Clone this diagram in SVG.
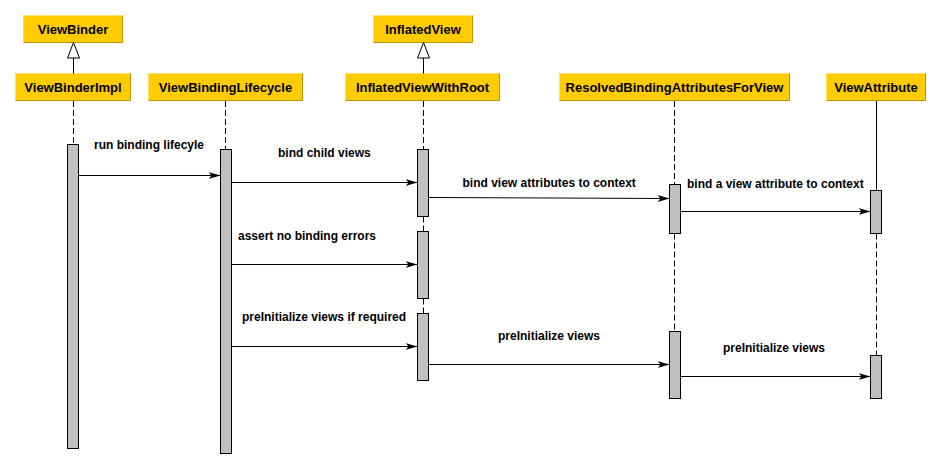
<svg xmlns="http://www.w3.org/2000/svg" width="941" height="468" viewBox="0 0 941 468">
<style>
.box{fill:#FFCC00;stroke:#FFE066;stroke-width:1}
.sh{fill:none;stroke:#B8960A;stroke-width:1}
.bl{font-family:"Liberation Sans",Arial,sans-serif;font-weight:bold;font-size:13px;fill:#000;text-anchor:middle}
.ml{font-family:"Liberation Sans",Arial,sans-serif;font-weight:bold;font-size:12px;fill:#000}
.act{fill:#C0C0C0;stroke:#000;stroke-width:1}
.life{stroke:#000;stroke-width:1;stroke-dasharray:6 3;fill:none}
.solid{stroke:#000;stroke-width:1;fill:none}
.msg{stroke:#000;stroke-width:1;fill:none;marker-end:url(#arr)}
.gen{fill:#fff;stroke:#000;stroke-width:1}
</style>
<defs>
<marker id="arr" markerUnits="userSpaceOnUse" markerWidth="13" markerHeight="9" refX="12" refY="4" orient="auto">
<path d="M0,0.5 L12,4 L0,7.5 L3,4 Z" fill="#000"/>
</marker>
</defs>
<rect width="941" height="468" fill="#fff"/>

<g id="ViewBinder">
<rect class="box" x="23.5" y="15.5" width="99" height="27"/>
<polyline class="sh" points="23.5,42.5 122.5,42.5 122.5,15.5"/>
<text class="bl" x="73" y="33.5">ViewBinder</text>
</g>
<g id="InflatedView">
<rect class="box" x="373.5" y="15.5" width="99" height="27"/>
<polyline class="sh" points="373.5,42.5 472.5,42.5 472.5,15.5"/>
<text class="bl" x="423" y="33.5">InflatedView</text>
</g>

<g id="ViewBinderImpl">
<rect class="box" x="15.5" y="73.5" width="115" height="27"/>
<polyline class="sh" points="15.5,100.5 130.5,100.5 130.5,73.5"/>
<text class="bl" x="73" y="91.5">ViewBinderImpl</text>
<line class="life" x1="73.5" y1="101" x2="73.5" y2="144.5"/>
<rect class="act" x="67.5" y="144.5" width="11" height="304"/>
</g>

<g id="ViewBindingLifecycle">
<rect class="box" x="148.5" y="73.5" width="154" height="27"/>
<polyline class="sh" points="148.5,100.5 302.5,100.5 302.5,73.5"/>
<text class="bl" x="225.5" y="91.5">ViewBindingLifecycle</text>
<line class="life" x1="225.5" y1="101" x2="225.5" y2="149.5"/>
<rect class="act" x="220.5" y="149.5" width="11" height="304"/>
</g>

<g id="InflatedViewWithRoot">
<rect class="box" x="345.5" y="73.5" width="154" height="27"/>
<polyline class="sh" points="345.5,100.5 499.5,100.5 499.5,73.5"/>
<text class="bl" x="422.5" y="91.5">InflatedViewWithRoot</text>
<line class="life" x1="423.5" y1="101" x2="423.5" y2="149.5"/>
<line class="life" x1="423.5" y1="216.5" x2="423.5" y2="231.5"/>
<line class="life" x1="423.5" y1="298.5" x2="423.5" y2="313.5"/>
<rect class="act" x="417.5" y="149.5" width="11" height="67"/>
<rect class="act" x="417.5" y="231.5" width="11" height="67"/>
<rect class="act" x="417.5" y="313.5" width="11" height="67"/>
</g>

<g id="ResolvedBindingAttributesForView">
<rect class="box" x="559.5" y="73.5" width="230" height="27"/>
<polyline class="sh" points="559.5,100.5 789.5,100.5 789.5,73.5"/>
<text class="bl" x="674.5" y="91.5">ResolvedBindingAttributesForView</text>
<line class="life" x1="674.5" y1="101" x2="674.5" y2="184.5"/>
<line class="life" x1="674.5" y1="233.5" x2="674.5" y2="331.5"/>
<rect class="act" x="669.5" y="184.5" width="11" height="49"/>
<rect class="act" x="669.5" y="331.5" width="11" height="67"/>
</g>

<g id="ViewAttribute">
<rect class="box" x="826.5" y="73.5" width="99" height="27"/>
<polyline class="sh" points="826.5,100.5 925.5,100.5 925.5,73.5"/>
<text class="bl" x="876" y="91.5">ViewAttribute</text>
<line class="solid" x1="876.5" y1="101" x2="876.5" y2="190.5"/>
<line class="life" x1="876.5" y1="233.5" x2="876.5" y2="355.5"/>
<rect class="act" x="870.5" y="190.5" width="11" height="43"/>
<rect class="act" x="870.5" y="355.5" width="11" height="43"/>
</g>

<g id="connectors">
<line class="solid" x1="73.5" y1="58" x2="73.5" y2="73.5"/>
<polygon class="gen" points="73.5,42.5 79.5,58 67.5,58"/>
<line class="solid" x1="423.5" y1="58" x2="423.5" y2="73.5"/>
<polygon class="gen" points="423.5,42.5 429.5,58 417.5,58"/>

<line class="msg" x1="78.5" y1="175.5" x2="220.5" y2="175.5"/>
<text class="ml" x="94" y="149">run binding lifecyle</text>

<line class="msg" x1="231.5" y1="182.5" x2="417.5" y2="182.5"/>
<text class="ml" x="278" y="157">bind child views</text>

<line class="msg" x1="231.5" y1="264.5" x2="417.5" y2="264.5"/>
<text class="ml" x="238" y="239.5">assert no binding errors</text>

<line class="msg" x1="231.5" y1="346.5" x2="417.5" y2="346.5"/>
<text class="ml" x="242" y="321">preInitialize views if required</text>

<line class="msg" x1="428.5" y1="197.5" x2="669.5" y2="198.5"/>
<text class="ml" x="462.5" y="187">bind view attributes to context</text>

<line class="msg" x1="680.5" y1="211.5" x2="870.5" y2="211.5"/>
<text class="ml" x="687" y="188">bind a view attribute to context</text>

<line class="msg" x1="428.5" y1="364.5" x2="669.5" y2="364.5"/>
<text class="ml" x="498" y="340">preInitialize views</text>

<line class="msg" x1="680.5" y1="376.5" x2="870.5" y2="376.5"/>
<text class="ml" x="723" y="352">preInitialize views</text>
</g>
</svg>
